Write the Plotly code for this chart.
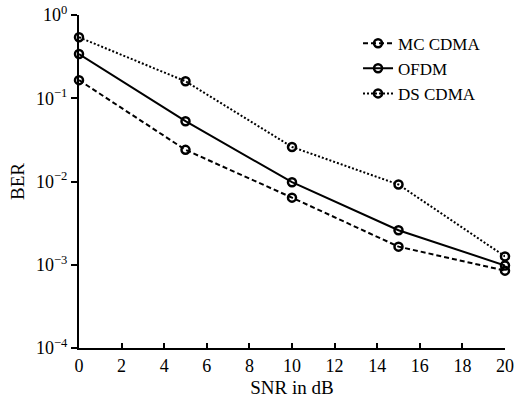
import plotly.graph_objects as go

snr = [0, 5, 10, 15, 20]
mc_cdma = [0.165, 0.024, 0.0064, 0.00165, 0.00085]
ofdm = [0.34, 0.053, 0.0098, 0.0026, 0.00098]
ds_cdma = [0.54, 0.16, 0.026, 0.0092, 0.00126]

ytickvals = [1, 0.1, 0.01, 0.001, 0.0001]
yticktext = ["10<sup>0</sup>", "10<sup>−1</sup>", "10<sup>−2</sup>", "10<sup>−3</sup>", "10<sup>−4</sup>"]
xtickvals = [0, 2, 4, 6, 8, 10, 12, 14, 16, 18, 20]

font = "Liberation Serif"

fig = go.Figure()
series = [("MC CDMA", mc_cdma, "5px,3px"), ("OFDM", ofdm, "solid"), ("DS CDMA", ds_cdma, "2px,2px")]
for name, vals, dash in series:
    fig.add_trace(go.Scatter(
        x=snr, y=vals, name=name, mode="lines+markers",
        line=dict(color="black", width=2, dash=dash),
        marker=dict(symbol="circle-open", size=8, color="black", line=dict(width=2.5, color="black")),
        cliponaxis=False,
    ))

fig.update_layout(
    width=523, height=409,
    margin=dict(l=79, r=18, t=15, b=61, autoexpand=False),
    paper_bgcolor="white", plot_bgcolor="white",
    font=dict(family=font, size=16, color="black"),
    showlegend=True,
    legend=dict(x=0.655, y=0.968, xanchor="left", yanchor="top",
                bgcolor="rgba(0,0,0,0)", font=dict(size=17, family=font),
                itemwidth=30, tracegroupgap=0),
    xaxis=dict(range=[0, 20], tickvals=xtickvals, showline=True, linecolor="black", linewidth=2,
               ticks="inside", ticklen=5, tickwidth=2, tickcolor="black", showgrid=False, zeroline=False,
               automargin=False,
               title=dict(text="SNR in dB", font=dict(size=19, family=font), standoff=6),
               tickfont=dict(size=18, family=font)),
    yaxis=dict(type="log", range=[-4, 0], tickvals=ytickvals, ticktext=yticktext, showline=True,
               linecolor="black", linewidth=2, ticks="outside", ticklen=6, tickwidth=2, tickcolor="black",
               showgrid=False, zeroline=False, automargin=False,
               title=dict(text="BER", font=dict(size=19, family=font), standoff=6),
               tickfont=dict(size=18, family=font)),
)

fig.write_html("out.html", post_script="document.body.style.margin='0';",
               config={"displayModeBar": False})
